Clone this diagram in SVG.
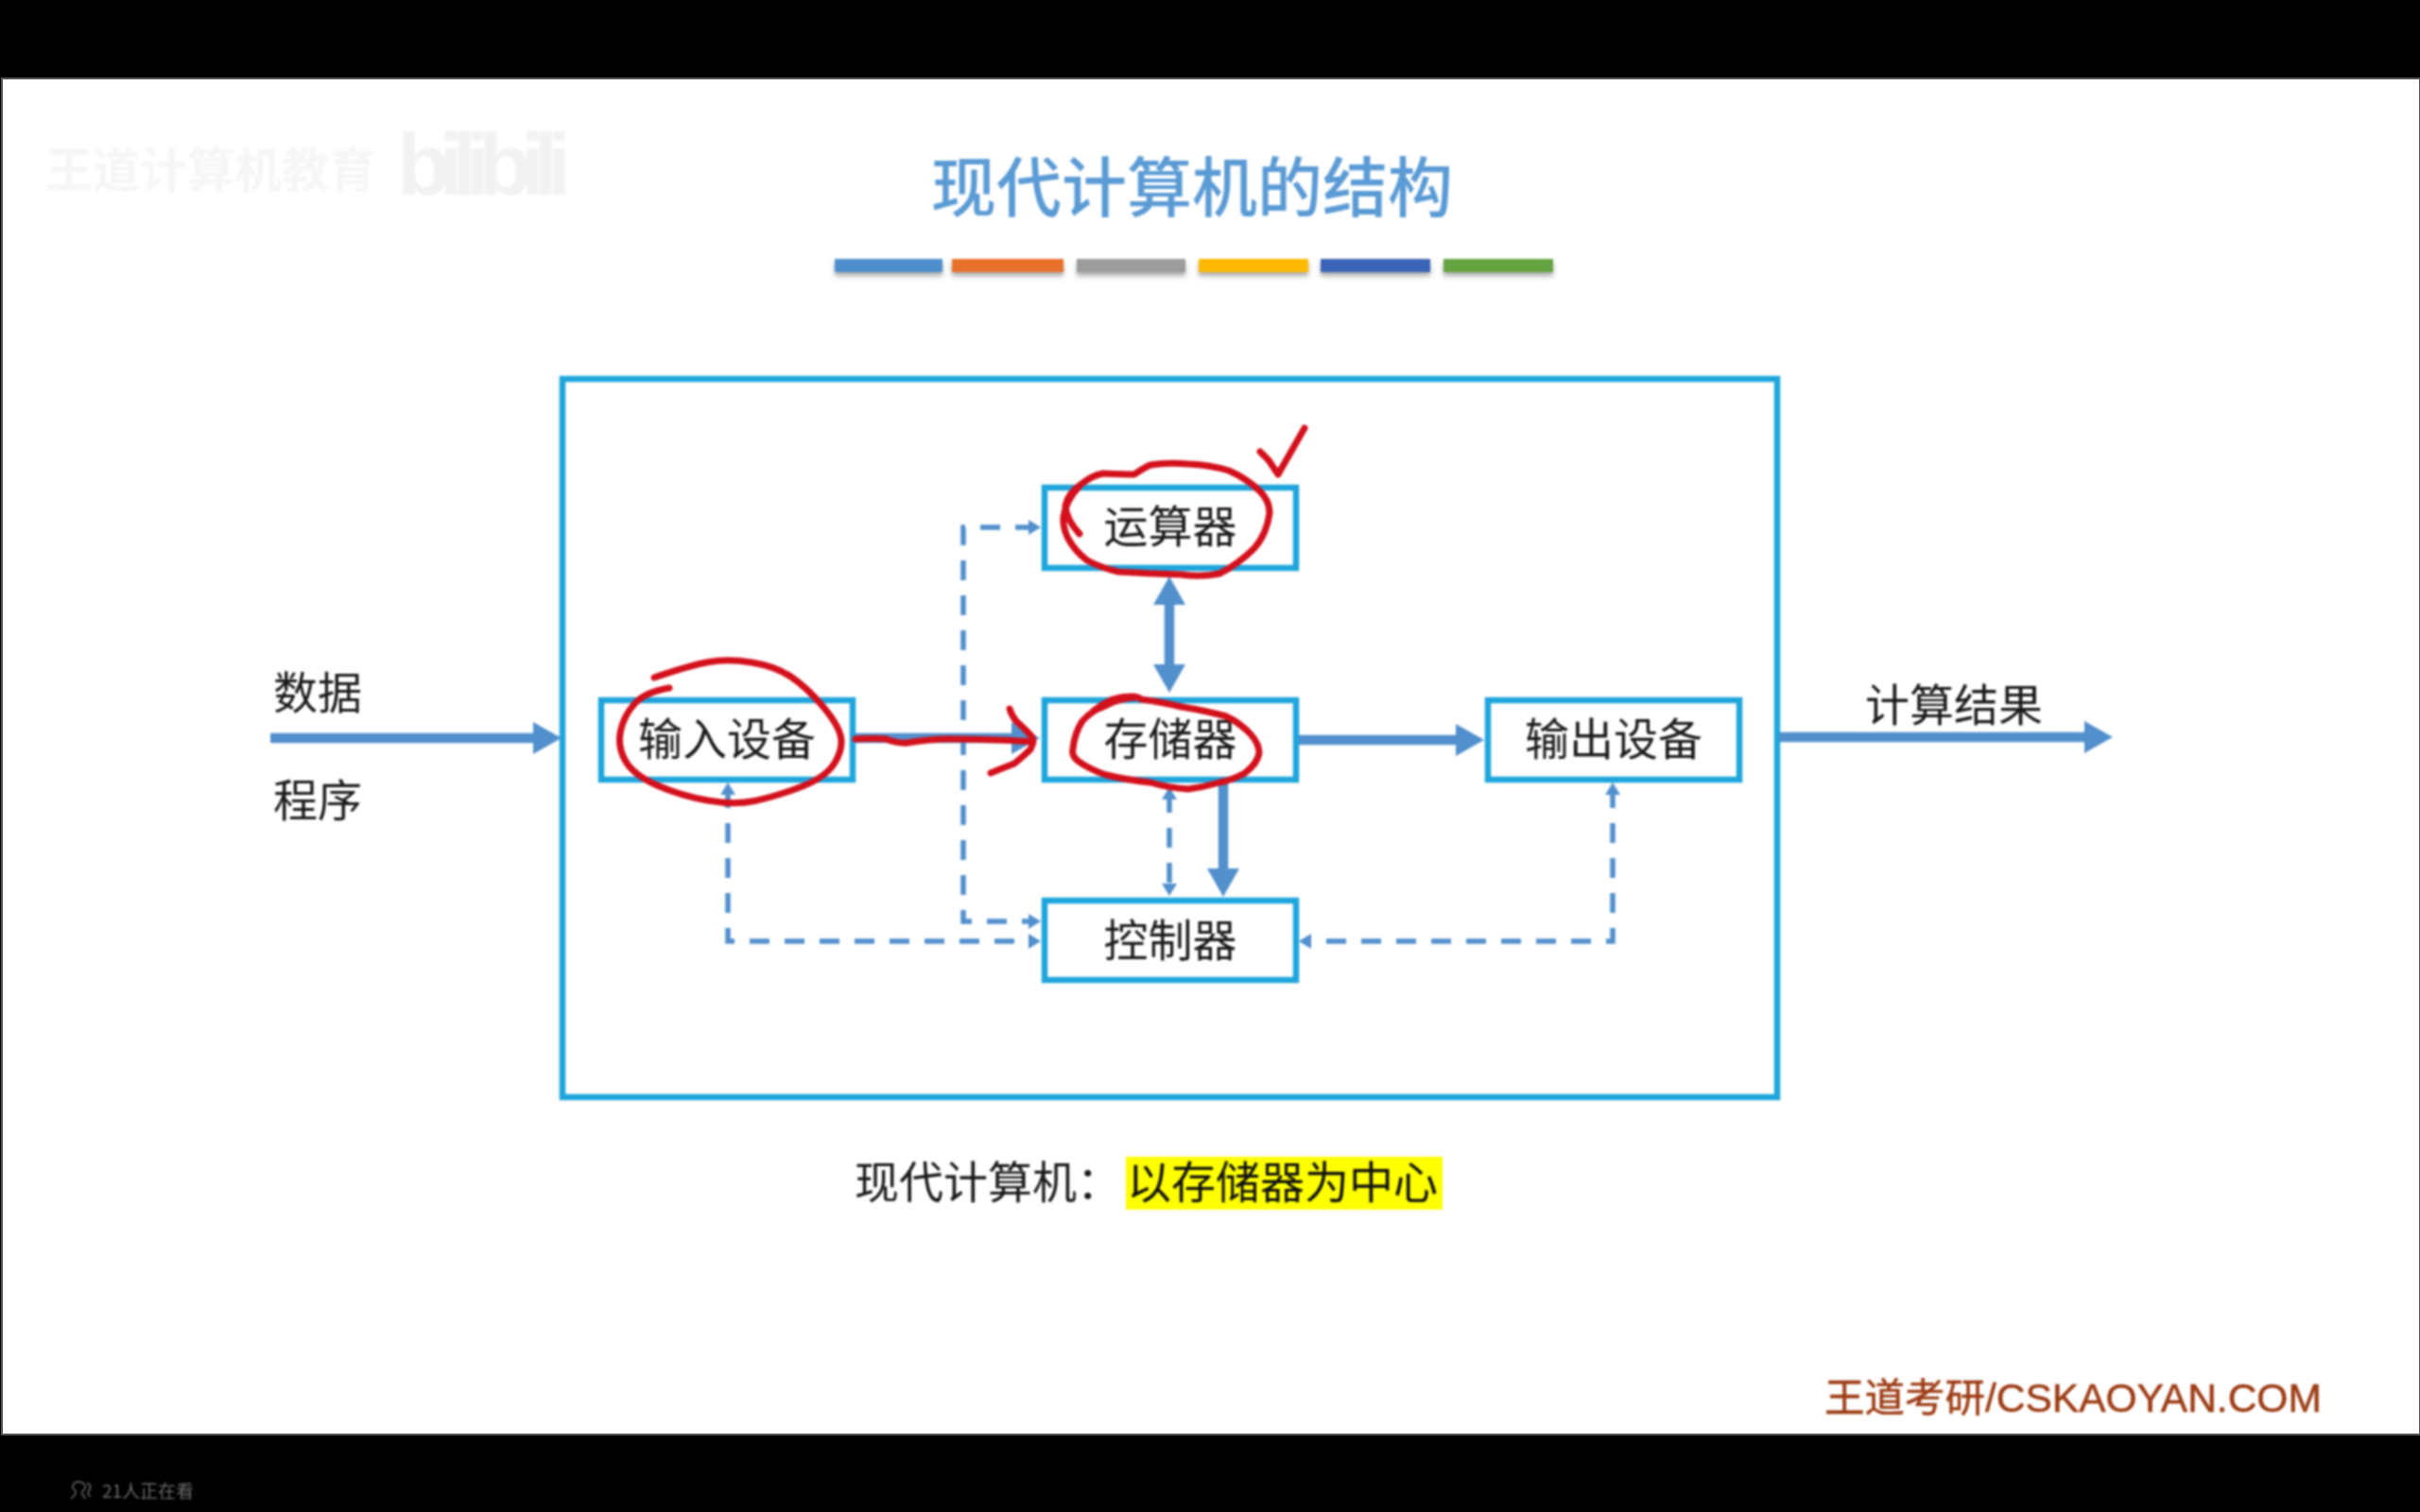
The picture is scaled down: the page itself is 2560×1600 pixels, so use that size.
<svg xmlns="http://www.w3.org/2000/svg" width="2560" height="1600" viewBox="0 0 2560 1600">
<style>
text{font-family:"Noto Sans CJK SC","Liberation Sans",sans-serif}
.box{fill:#fff;stroke:#1fa5dc;stroke-width:6.5}
.lbl{font-size:47px;fill:#1a1a1a;text-anchor:middle}
.thick{fill:none;stroke:#5290cd;stroke-width:10.5}
.dash{fill:none;stroke:#5290cd;stroke-width:5.5;stroke-dasharray:21 16}
.ink{fill:none;stroke:#d3101c;stroke-width:7;stroke-linecap:round;stroke-linejoin:round}
</style>
<defs>
<filter id="sh" x="-10%" y="-50%" width="120%" height="220%"><feDropShadow dx="0" dy="4" stdDeviation="2.5" flood-color="#555" flood-opacity=".5"/></filter>
<marker id="big" markerUnits="userSpaceOnUse" markerWidth="34" markerHeight="36" refX="14" refY="18" orient="auto-start-reverse"><path d="M0 1L30 18L0 35Z" fill="#5290cd"/></marker>
<marker id="small" markerUnits="userSpaceOnUse" markerWidth="16" markerHeight="18" refX="7" refY="9" orient="auto-start-reverse"><path d="M0 1L13 9L0 17Z" fill="#5290cd"/></marker>
</defs>
<rect width="2560" height="1600" fill="#000"/>
<rect x="2" y="83" width="2558" height="1435" fill="#fff" stroke="#555" stroke-width="2"/>
<g style="filter:blur(.9px)">
<text x="48" y="198" font-size="50" fill="#f6f6f6" font-weight="700" id="wm1">王道计算机教育</text>
<text x="420" y="206" fill="#f2f2f2" font-weight="700" style="font-family:'Liberation Sans',sans-serif;font-size:92px" textLength="184" id="wm2">bilibili</text>
<text x="1261" y="224" font-size="69" fill="#5b9bd5" text-anchor="middle" font-weight="500" id="title">现代计算机的结构</text>
<g id="title-bars" filter="url(#sh)">
<rect x="883" y="274" width="114" height="14" fill="#4e8fcc"/>
<rect x="1007" y="274" width="118" height="14" fill="#e8702a"/>
<rect x="1139" y="274" width="115" height="14" fill="#9c9c9c"/>
<rect x="1268" y="274" width="116" height="14" fill="#ffb900"/>
<rect x="1397" y="274" width="116" height="14" fill="#3a63b8"/>
<rect x="1527" y="274" width="116" height="14" fill="#63a340"/>
</g>
<g id="computer"><rect x="595" y="401" width="1285" height="760" fill="#fff" stroke="#1fa5dc" stroke-width="6.5"/></g>
<g id="connectors">
<path class="thick" d="M286 781H578" marker-end="url(#big)"/>
<path class="thick" d="M1882 780H2219" marker-end="url(#big)"/>
<path class="thick" d="M905 781H1084" marker-end="url(#big)"/>
<path class="thick" d="M1374 783H1554" marker-end="url(#big)"/>
<path class="thick" d="M1237 626V717" marker-start="url(#big)" marker-end="url(#big)"/>
<path class="thick" d="M1294 828V933" marker-end="url(#big)"/>
<path class="dash" d="M1237 839V942" marker-start="url(#small)" marker-end="url(#small)"/>
<path class="dash" d="M1095 558H1019V975H1095" marker-start="url(#small)" marker-end="url(#small)"/>
<path class="dash" d="M770 834V996H1095" marker-start="url(#small)" marker-end="url(#small)"/>
<path class="dash" d="M1706 834V996H1380" marker-start="url(#small)" marker-end="url(#small)"/>
</g>
<g id="alu"><rect class="box" x="1105" y="516" width="266" height="85"/><text class="lbl" x="1238" y="574">运算器</text></g>
<g id="input"><rect class="box" x="636" y="741" width="266" height="84"/><text class="lbl" x="769" y="799">输入设备</text></g>
<g id="memory"><rect class="box" x="1105" y="741" width="266" height="84"/><text class="lbl" x="1238" y="799">存储器</text></g>
<g id="output"><rect class="box" x="1574" y="741" width="266" height="84"/><text class="lbl" x="1707" y="799">输出设备</text></g>
<g id="control"><rect class="box" x="1105" y="953" width="266" height="84"/><text class="lbl" x="1238" y="1012">控制器</text></g>
<g id="labels">
<text class="lbl" x="336" y="750">数据</text>
<text class="lbl" x="336" y="864">程序</text>
<text class="lbl" x="2067" y="763">计算结果</text>
</g>
<g id="caption">
<rect x="1191" y="1224" width="335" height="56" fill="#ffff00"/>
<text x="904" y="1268" font-size="47" fill="#1a1a1a">现代计算机：</text>
<text x="1192" y="1268" font-size="47" fill="#111">以存储器为中心</text>
</g>
<text id="brand" x="1930" y="1494" fill="#9c3a12" style="font-family:'Liberation Sans','Noto Sans CJK SC',sans-serif;font-size:42.5px;stroke:#9c3a12;stroke-width:.5">王道考研/CSKAOYAN.COM</text>
<g id="viewers"><path d="M75 1586Q81 1581 80 1578Q76 1574 77 1572Q79 1568 83 1568Q88 1568 90 1572Q91 1576 87 1578Q86 1582 91 1586M92 1569Q97 1572 95 1576Q93 1579 93 1581L96 1584" fill="none" stroke="#666" stroke-width="1.6"/>
<text x="108" y="1585" font-size="19" fill="#6a6a6a">21人正在看</text></g>
<g id="annotations">
<path class="ink" d="M1142 565Q1128 550 1127 535Q1130 522 1143 513Q1155 503 1167 501Q1190 502 1200 502Q1210 495 1217 492Q1235 489 1257 491Q1280 492 1300 498Q1320 507 1333 520Q1343 530 1343 543Q1340 565 1327 580Q1310 597 1290 607Q1270 611 1250 608Q1215 607 1183 605Q1165 601 1150 593Q1137 583 1130 570Q1124 558 1125 547Q1127 530 1143 513"/>
<path class="ink" d="M1333 478L1342 487L1352 502L1380 453"/>
<path class="ink" d="M692 717Q730 704 750 700.5Q770 697 795 701Q820 705 836.5 716Q853 727 870 747Q887 767 889.5 780Q892 793 882.5 808Q873 823 846.5 833Q820 843 798.5 847.5Q777 852 748.5 847Q720 842 695 831Q670 820 661.5 805Q653 790 656.5 773.5Q660 757 671.5 744.5Q683 732 708 728"/>
<path class="ink" d="M905 782Q925 781 937 782Q950 787 960 786Q985 782 1003 782Q1050 782 1093 785"/>
<path class="ink" d="M1068 750Q1070 757 1075 763Q1085 772 1092 780Q1094 786 1090 793Q1082 801 1073 808Q1060 813 1048 818"/>
<path class="ink" d="M1157 752Q1166 745 1177 740Q1187 737 1197 737Q1204 737 1207 740Q1230 743 1250 748Q1275 752 1297 758Q1312 765 1323 777Q1332 787 1332 797Q1330 808 1317 818Q1305 825 1290 828Q1273 833 1257 835Q1237 834 1217 828Q1190 825 1170 820Q1152 814 1140 805Q1133 799 1135 792Q1137 775 1145 763Q1155 752 1167 748Q1178 742 1187 740Q1195 738 1203 738"/>
</g>
</g>
</svg>
